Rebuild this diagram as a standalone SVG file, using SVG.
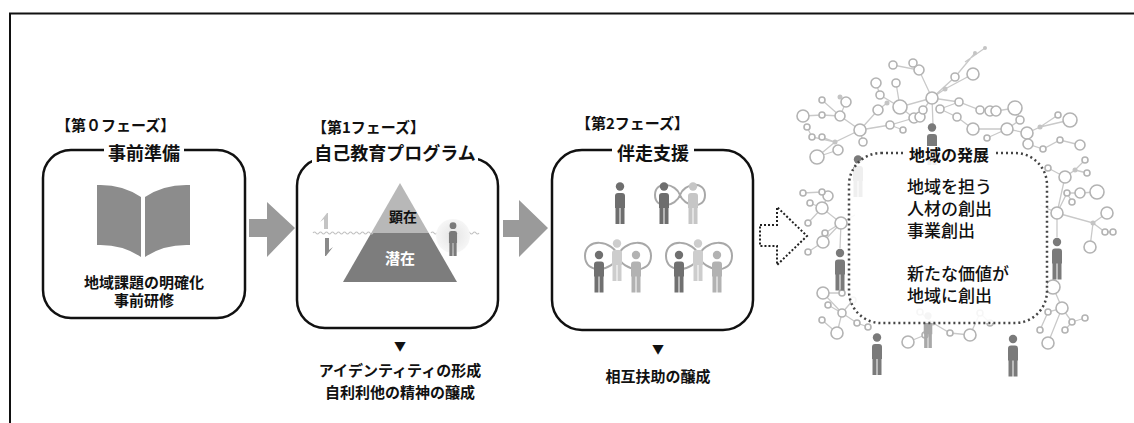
<svg xmlns="http://www.w3.org/2000/svg" xmlns:xlink="http://www.w3.org/1999/xlink" width="1134" height="423" viewBox="0 0 1134 423">
  <style>
    text { font-family: "Noto Sans CJK JP", "Noto Sans CJK SC", sans-serif; fill: #111; }
    .phase { font-size: 15px; font-weight: 700; }
    .title { font-size: 18px; font-weight: 700; text-anchor: middle; }
    .note { font-size: 15px; font-weight: 700; text-anchor: middle; }
    .mark { font-size: 12px; text-anchor: middle; }
    .box { fill: none; stroke: #111; stroke-width: 2.5; }
    .gap { fill: #fff; }
    .flow { fill: #9a9a9a; }
    .net line, .net path { stroke: #c9c9c9; stroke-width: 1.3; fill: none; }
    .net circle { fill: #fff; stroke: #b3b3b3; stroke-width: 1.6; }
    .net circle.dot { fill: #c4c4c4; stroke: none; }
    .loop { fill: none; stroke: #a8a8a8; stroke-width: 2; }
    .body { font-size: 17px; font-weight: 500; }
  </style>
  <defs>
    <symbol id="person" viewBox="0 0 12 42">
      <circle cx="6" cy="4.5" r="4.2"/>
      <path d="M1,14 a3,3 0 0 1 3,-3 h4 a3,3 0 0 1 3,3 v12 h-10 z"/>
      <rect x="1.5" y="25" width="4" height="17"/>
      <rect x="6.5" y="25" width="4" height="17"/>
    </symbol>
    <radialGradient id="glow">
      <stop offset="0" stop-color="#e4e4e4"/>
      <stop offset="1" stop-color="#f6f6f6"/>
    </radialGradient>
  </defs>

  <!-- outer frame: top and left rules only -->
  <g id="frame" stroke="#111" stroke-width="2">
    <line x1="9" y1="13.5" x2="1134" y2="13.5"/>
    <line x1="10" y1="13" x2="10" y2="423"/>
  </g>

  <!-- phase 0 -->
  <g id="phase0">
    <text class="phase" x="56" y="131">【第０フェーズ】</text>
    <rect class="box" x="43" y="150" width="202" height="168" rx="28"/>
    <rect class="gap" x="104" y="143" width="80" height="13"/>
    <text class="title" x="144" y="160">事前準備</text>
    <g fill="#8c8c8c">
      <path d="M97,185 Q122,184 141,197 L141,257 Q122,244 97,245 Z"/>
      <path d="M145,197 Q164,184 190,185 L190,245 Q164,244 145,257 Z"/>
    </g>
    <text class="note" x="144" y="288">地域課題の明確化</text>
    <text class="note" x="144" y="306">事前研修</text>
  </g>

  <!-- phase 1 -->
  <g id="phase1">
    <text class="phase" x="312" y="133">【第1フェーズ】</text>
    <rect class="box" x="297" y="158" width="201" height="170" rx="28"/>
    <rect class="gap" x="312" y="150" width="166" height="14"/>
    <text class="title" x="395" y="160">自己教育プログラム</text>
    <polygon points="400,183 428.8,233 371.2,233" fill="#b8b8b8"/>
    <polygon points="371.2,233 428.8,233 457,282 343,282" fill="#7d7d7d"/>
    <path d="M313,233 q1.5,-2 3,0 t3,0 t3,0 t3,0 t3,0 t3,0 t3,0 t3,0 t3,0 t3,0 t3,0 t3,0 t3,0 t3,0 t3,0 t3,0 t3,0 t3,0 t3,0 t3,0 M431,233 q1.5,-2 3,0 t3,0 t3,0 t3,0 t3,0 t3,0 t3,0 t3,0 t3,0 t3,0 t3,0 t3,0 t3,0 t3,0 t3,0 t3,0" fill="none" stroke="#c2c2c2" stroke-width="1.2"/>
    <polygon points="324,229 324,219 320,222 327,213 328,213 328,229" fill="#c4c4c4"/>
    <polygon points="325,238 329,238 329,250 333,247 326,256 325,256" fill="#8a8a8a"/>
    <circle cx="453" cy="236" r="17" fill="url(#glow)"/>
    <use href="#person" x="448" y="222" width="10" height="34" fill="#7a7a7a"/>
    <text x="403" y="222" font-size="14" font-weight="700" text-anchor="middle">顕在</text>
    <text x="400" y="264" font-size="15" font-weight="700" text-anchor="middle" style="fill:#fff">潜在</text>
    <text class="mark" x="400" y="351">▼</text>
    <text class="note" x="400" y="376">アイデンティティの形成</text>
    <text class="note" x="400" y="398">自利利他の精神の醸成</text>
  </g>

  <!-- phase 2 -->
  <g id="phase2">
    <text class="phase" x="576" y="129">【第2フェーズ】</text>
    <rect class="box" x="552" y="150" width="201" height="180" rx="30"/>
    <rect class="gap" x="612" y="143" width="82" height="13"/>
    <text class="title" x="653" y="160">伴走支援</text>
    <path class="loop" d="M680,195 C684,183 705,180 705,195 C705,210 684,207 680,195 C676,183 655,180 655,195 C655,210 676,207 680,195 Z"/>
    <path class="loop" d="M618,256 C623,240 651,237 651,256 C651,275 623,272 618,256 C613,240 585,237 585,256 C585,275 613,272 618,256 Z"/>
    <path class="loop" d="M699,256 C704,240 732,237 732,256 C732,275 704,272 699,256 C694,240 666,237 666,256 C666,275 694,272 699,256 Z"/>
    <use href="#person" x="614" y="182" width="12" height="42" fill="#6e6e6e"/>
    <use href="#person" x="658" y="182" width="12" height="42" fill="#6e6e6e"/>
    <use href="#person" x="687" y="182" width="12" height="42" fill="#c6c6c6"/>
    <use href="#person" x="611" y="239" width="12" height="42" fill="#cdcdcd"/>
    <use href="#person" x="593" y="250" width="12" height="43" fill="#707070"/>
    <use href="#person" x="630" y="250" width="12" height="43" fill="#b2b2b2"/>
    <use href="#person" x="692" y="239" width="12" height="42" fill="#cdcdcd"/>
    <use href="#person" x="673" y="250" width="12" height="43" fill="#707070"/>
    <use href="#person" x="711" y="250" width="12" height="43" fill="#b2b2b2"/>
    <text class="mark" x="658" y="354">▼</text>
    <text class="note" x="658" y="382">相互扶助の醸成</text>
  </g>

  <!-- regional network around the outcome -->
  <g id="network" class="net">
    <path d="M932,98 L919,70 L893,65 M919,70 L913,63 M932,98 L955,77 L975,53 M965,62 L985,48 M932,98 L900,107 L880,95 L876,83 M900,107 L896,83 M932,98 L959,102 L980,110 L996,111 M932,98 L933,125 M932,98 L945,89 L973,74 M932,98 L923,110 M959,102 L940,109 M900,107 L914,118 L920,117 M878,110 L887,103
             M860,130 L840,116 L822,115 L803,116 M840,116 L846,102 L840,97 M840,116 L822,100 M860,130 L878,110 M860,130 L890,125 L914,118 M890,125 L903,130 M860,130 L835,142 L812,137 L807,127 M835,142 L822,137 M860,130 L863,142 M835,142 L817,157 L838,150
             M1007,129 L973,129 L957,117 L940,109 M1007,129 L1020,120 L1015,108 L996,111 M1007,129 L1027,133 L1040,127 L1058,115 M1040,127 L1070,120 M1027,133 L1028,144 L1043,149 L1060,140 L1080,145 M1007,129 L987,138
             M1057,213 L1067,193 L1080,193 L1097,192 M1067,193 L1072,202 M1057,213 L1065,177 L1075,170 L1085,160 M1075,170 L1087,173 M1057,213 L1093,223 L1107,213 M1093,223 L1105,232 L1113,232 M1093,223 L1090,247 M1057,213 L1040,205 M1057,213 L1057,237 M1065,177 L1048,168
             M841,223 L823,242 L808,252 M841,223 L822,208 L810,203 M822,208 L828,196 L822,192 L803,193 M841,223 L825,233 M841,223 L855,215 M841,223 L840,248 M822,208 L808,223
             M842,313 L823,293 L842,293 M842,313 L828,305 M842,313 L837,333 L822,320 M842,313 L857,323 L868,327 M842,313 L853,300
             M933,323 L925,335 L908,342 M933,323 L950,333 L970,335 L980,313 L990,323 M933,323 L920,312
             M1062,308 L1053,287 M1062,308 L1048,312 L1040,330 M1062,308 L1072,322 L1065,330 M1062,308 L1048,343 M1072,322 L1085,318"/>
    <circle cx="932" cy="98" r="6"/><circle cx="919" cy="70" r="5"/><circle cx="893" cy="65" r="4"/><circle cx="913" cy="63" r="4"/>
    <circle cx="955" cy="77" r="4"/><circle class="dot" cx="975" cy="53" r="2"/><circle class="dot" cx="985" cy="48" r="2"/>
    <circle cx="900" cy="107" r="7"/><circle cx="880" cy="95" r="4"/><circle cx="876" cy="83" r="5"/><circle cx="896" cy="83" r="4"/>
    <circle cx="959" cy="102" r="4"/><circle cx="980" cy="110" r="4"/><circle cx="990" cy="111" r="5"/><circle cx="996" cy="111" r="5"/>
    <circle class="dot" cx="945" cy="89" r="2.5"/><circle cx="973" cy="74" r="6"/><circle cx="940" cy="109" r="4"/><circle class="dot" cx="887" cy="103" r="2.5"/>
    <circle cx="914" cy="118" r="5"/><circle cx="920" cy="117" r="5"/><circle cx="923" cy="110" r="4"/>
    <circle cx="860" cy="130" r="6"/><circle cx="840" cy="116" r="5"/><circle cx="822" cy="115" r="3"/><circle cx="803" cy="116" r="6"/>
    <circle cx="846" cy="102" r="5"/><circle class="dot" cx="840" cy="97" r="2.5"/><circle cx="822" cy="100" r="3"/><circle cx="878" cy="110" r="5"/>
    <circle cx="890" cy="125" r="4"/><circle cx="903" cy="130" r="3"/><circle class="dot" cx="835" cy="142" r="2.5"/><circle cx="812" cy="137" r="3"/>
    <circle cx="822" cy="137" r="3"/><circle cx="807" cy="127" r="3"/><circle cx="863" cy="142" r="4"/><circle cx="817" cy="157" r="7"/><circle cx="838" cy="150" r="5"/>
    <circle cx="1007" cy="129" r="6"/><circle cx="973" cy="129" r="6"/><circle cx="957" cy="117" r="4"/><circle cx="1020" cy="120" r="4"/>
    <circle cx="1015" cy="108" r="7"/><circle cx="1027" cy="133" r="6"/><circle class="dot" cx="1040" cy="127" r="2.5"/><circle cx="1058" cy="115" r="3"/>
    <circle cx="1070" cy="120" r="7"/><circle cx="1028" cy="144" r="5"/><circle cx="1043" cy="149" r="3"/><circle cx="1060" cy="140" r="3"/>
    <circle cx="1080" cy="145" r="5"/><circle cx="987" cy="138" r="3"/>
    <circle cx="1057" cy="213" r="6"/><circle cx="1067" cy="193" r="3"/><circle cx="1080" cy="193" r="5"/><circle cx="1097" cy="192" r="7"/>
    <circle cx="1072" cy="202" r="3"/><circle cx="1065" cy="177" r="6"/><circle class="dot" cx="1075" cy="170" r="2.5"/><circle cx="1085" cy="160" r="3"/>
    <circle cx="1087" cy="173" r="3"/><circle class="dot" cx="1093" cy="223" r="2.5"/><circle cx="1107" cy="213" r="6"/><circle cx="1105" cy="232" r="3"/>
    <circle cx="1113" cy="232" r="3"/><circle cx="1090" cy="247" r="6"/><circle cx="1048" cy="168" r="3"/>
    <circle cx="841" cy="223" r="6"/><circle cx="823" cy="242" r="6"/><circle cx="808" cy="252" r="3"/><circle cx="822" cy="208" r="6"/>
    <circle cx="810" cy="203" r="3"/><circle cx="828" cy="196" r="5"/><circle cx="822" cy="192" r="3"/><circle cx="803" cy="193" r="3"/>
    <circle cx="825" cy="233" r="3"/><circle cx="808" cy="223" r="3"/>
    <circle cx="842" cy="313" r="4"/><circle cx="823" cy="293" r="6"/><circle cx="842" cy="293" r="3"/><circle cx="828" cy="305" r="3"/>
    <circle cx="837" cy="333" r="6"/><circle cx="857" cy="323" r="3"/><circle cx="868" cy="327" r="3"/><circle cx="853" cy="300" r="3"/><circle cx="822" cy="320" r="3"/>
    <circle cx="908" cy="342" r="6"/><circle cx="925" cy="335" r="3"/><circle class="dot" cx="933" cy="323" r="2.5"/><circle cx="950" cy="333" r="3"/>
    <circle cx="970" cy="335" r="6"/><circle cx="980" cy="313" r="3"/><circle cx="990" cy="323" r="3"/><circle cx="920" cy="312" r="3"/>
    <circle cx="1062" cy="308" r="6"/><circle cx="1053" cy="287" r="7"/><circle cx="1048" cy="312" r="3"/><circle cx="1072" cy="322" r="3"/>
    <circle cx="1065" cy="330" r="3"/><circle cx="1048" cy="343" r="6"/><circle cx="1085" cy="318" r="3"/><circle cx="1040" cy="330" r="3"/>
    <!-- people living in the region -->
    <use href="#person" x="926" y="123" width="12" height="42" fill="#7a7a7a"/>
    <use href="#person" x="852" y="155" width="12" height="42" fill="#7a7a7a"/>
    <use href="#person" x="834" y="248" width="12" height="43" fill="#7a7a7a"/>
    <use href="#person" x="1051" y="237" width="12" height="43" fill="#7a7a7a"/>
    <use href="#person" x="922" y="312" width="12" height="36" fill="#a8a8a8"/>
    <use href="#person" x="871" y="332" width="12" height="44" fill="#7a7a7a"/>
    <use href="#person" x="1007" y="333" width="12" height="45" fill="#7a7a7a"/>
  </g>

  <!-- outcome -->
  <g id="outcome">
    <rect x="849" y="153" width="198" height="170" rx="32" fill="#fff" fill-opacity="0.88" stroke="#444" stroke-width="2.5" stroke-dasharray="2 3"/>
    <rect class="gap" x="904" y="146" width="90" height="14"/>
    <text x="949" y="161" font-size="16" font-weight="700" text-anchor="middle">地域の発展</text>
    <text class="body" x="907" y="193">地域を担う</text>
    <text class="body" x="907" y="215">人材の創出</text>
    <text class="body" x="907" y="237">事業創出</text>
    <text class="body" x="907" y="280">新たな価値が</text>
    <text class="body" x="907" y="302">地域に創出</text>
  </g>

  <!-- connectors between phases -->
  <g id="connectors">
    <polygon class="flow" points="249,219 267,219 267,202 295,228 267,257 267,237 249,237"/>
    <polygon class="flow" points="503,220 519,220 519,200 548,228 519,257 519,237 503,237"/>
    <polygon points="760,225 777,225 777,207 807,236 777,265 777,246 760,246" fill="#fff" stroke="#222" stroke-width="2" stroke-dasharray="2 2"/>
  </g>
</svg>
